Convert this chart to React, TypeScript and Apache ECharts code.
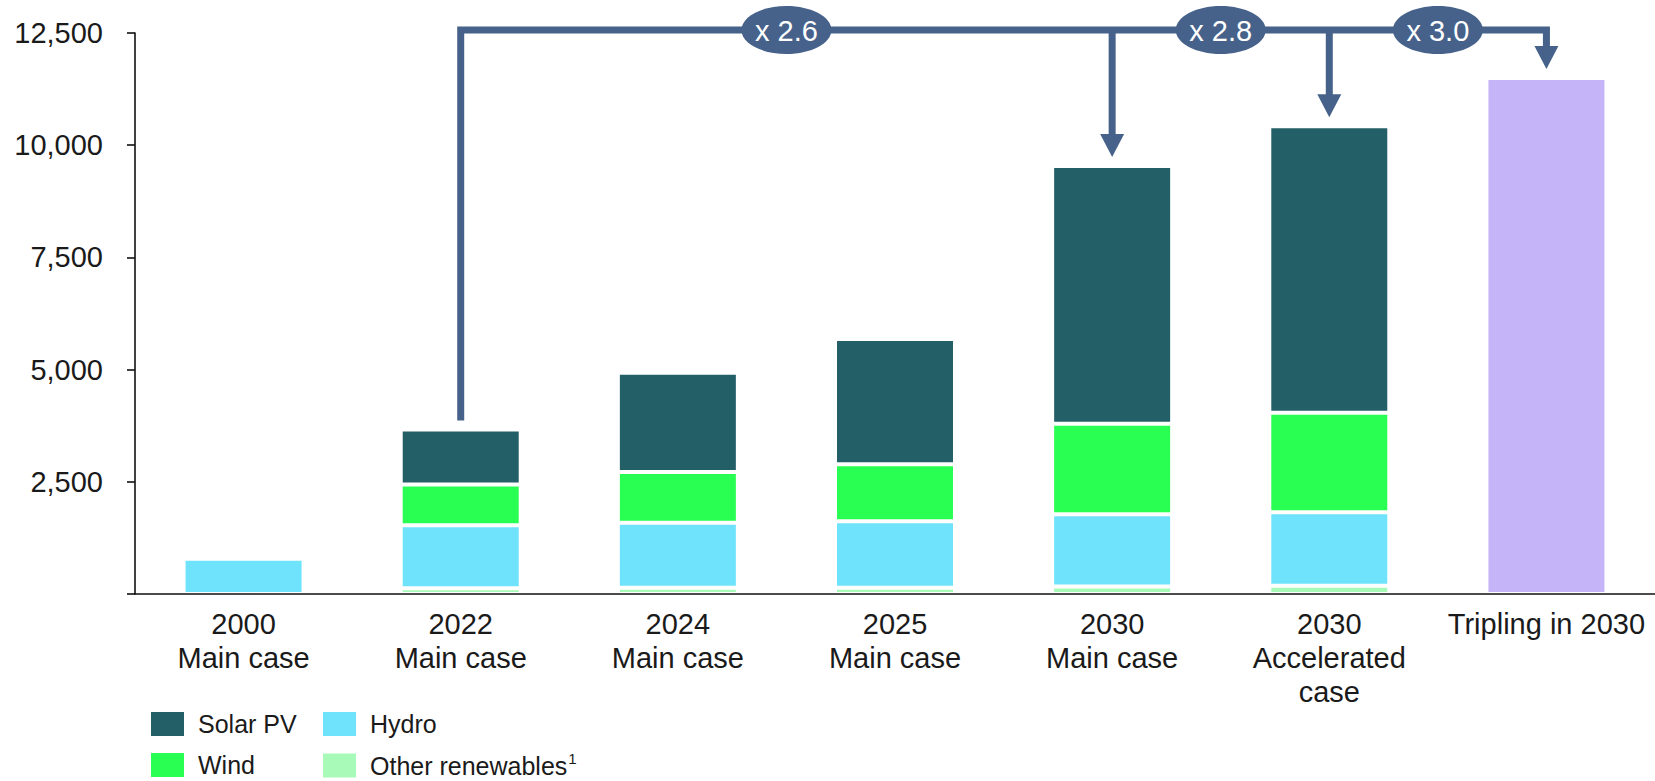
import React, { useEffect, useRef } from 'react';
import * as echarts from 'echarts';

const categories = [
  '2000\nMain case',
  '2022\nMain case',
  '2024\nMain case',
  '2025\nMain case',
  '2030\nMain case',
  '2030\nAccelerated\ncase',
  'Tripling in 2030',
];
const otherRenewables = [0, 130, 140, 140, 165, 185, null];
const hydro = [785, 1400, 1445, 1480, 1610, 1635, null];
const wind = [null, 910, 1135, 1270, 2020, 2220, null];
const solarPV = [null, 1225, 2210, 2790, 5740, 6380, null];
const tripling = [null, null, null, null, null, null, 11500];
const yTicks = [0, 2500, 5000, 7500, 10000, 12500];
const multipliers = ['x 2.6', 'x 2.8', 'x 3.0'];

const FONT = '"Liberation Sans", Arial, sans-serif';
const LINE = '#46628A';

export default function App() {
  const ref = useRef<HTMLDivElement>(null);
  useEffect(() => {
    const chart = echarts.init(ref.current!, null, { renderer: 'svg' });
    const barCommon = {
      type: 'bar',
      stack: 'total',
      barWidth: 120,
      itemStyle: { borderColor: '#ffffff', borderWidth: 2 },
      emphasis: { disabled: true },
    };
    const legendCommon = {
      orient: 'vertical',
      top: 710,
      height: 120,
      padding: 0,
      itemWidth: 35,
      itemHeight: 26,
      itemGap: 13,
      icon: 'rect',
      selectedMode: false,
      textStyle: {
        fontFamily: FONT,
        fontSize: 25,
        lineHeight: 26,
        color: '#1a1a1a',
        padding: [0, 0, 0, 8],
        rich: {
          sup: { fontFamily: FONT, fontSize: 15, lineHeight: 26, color: '#1a1a1a', padding: [0, 0, 14, 1] },
        },
      },
      formatter: (name: string) => (name === 'Other renewables' ? 'Other renewables{sup|1}' : name),
    };
    chart.setOption({
      animation: false,
      grid: { left: 135, right: 0, top: 33, bottom: 187, containLabel: false },
      legend: [
        { ...legendCommon, left: 149, data: ['Solar PV', 'Wind'] },
        { ...legendCommon, left: 321, data: ['Hydro', 'Other renewables'] },
      ],
      xAxis: {
        type: 'category',
        data: categories,
        z: 10,
        axisLine: { show: true, lineStyle: { color: '#111', width: 1.6 } },
        axisTick: { show: false },
        axisLabel: {
          interval: 0,
          margin: 13,
          fontFamily: FONT,
          fontSize: 29,
          lineHeight: 34,
          color: '#1a1a1a',
        },
      },
      yAxis: {
        type: 'value',
        min: yTicks[0],
        max: yTicks[yTicks.length - 1],
        interval: 2500,
        splitLine: { show: false },
        axisLine: { show: true, lineStyle: { color: '#111', width: 1.6 } },
        axisTick: { show: true, length: 8, lineStyle: { color: '#111', width: 1.6 } },
        axisLabel: {
          margin: 32,
          fontFamily: FONT,
          fontSize: 29,
          color: '#1a1a1a',
          formatter: (v: number) => (v === 0 ? '' : v.toLocaleString('en-US')),
        },
      },
      series: [
        { ...barCommon, name: 'Other renewables', data: otherRenewables, itemStyle: { ...barCommon.itemStyle, color: '#A8FAB9' } },
        { ...barCommon, name: 'Hydro', data: hydro, itemStyle: { ...barCommon.itemStyle, color: '#6EE3FB' } },
        { ...barCommon, name: 'Wind', data: wind, itemStyle: { ...barCommon.itemStyle, color: '#29FF52' } },
        { ...barCommon, name: 'Solar PV', data: solarPV, itemStyle: { ...barCommon.itemStyle, color: '#235F66' } },
        { ...barCommon, name: 'Tripling', data: tripling, itemStyle: { ...barCommon.itemStyle, color: '#C5B4F7' } },
      ],
    });

    const px = (i: number) => chart.convertToPixel({ xAxisIndex: 0 }, i) as number;
    const py = (v: number) => chart.convertToPixel({ yAxisIndex: 0 }, v) as number;
    const totals = categories.map(
      (_, i) =>
        (otherRenewables[i] || 0) + (hydro[i] || 0) + (wind[i] || 0) + (solarPV[i] || 0) + (tripling[i] || 0)
    );
    const lineY = py(yTicks[yTicks.length - 1]) - 3;
    const lw = 7;
    const gap = 9;
    const headH = 23;
    const headW = 24;
    const elements: any[] = [];
    const startX = px(1);
    const endX = px(6);
    const arrowTargets = [4, 5, 6];
    elements.push({
      type: 'polyline',
      z: 100,
      shape: {
        points: [
          [startX, py(totals[1]) - gap],
          [startX, lineY],
          [endX, lineY],
          [endX, py(totals[6]) - gap - headH + 2],
        ],
      },
      style: { stroke: LINE, lineWidth: lw, fill: null, lineJoin: 'miter', lineCap: 'butt' },
    });
    arrowTargets.forEach((idx) => {
      const x = px(idx);
      const tip = py(totals[idx]) - gap;
      if (idx !== 6) {
        elements.push({
          type: 'line',
          z: 100,
          shape: { x1: x, y1: lineY, x2: x, y2: tip - headH + 2 },
          style: { stroke: LINE, lineWidth: lw, lineCap: 'butt' },
        });
      }
      elements.push({
        type: 'polygon',
        z: 100,
        shape: {
          points: [
            [x - headW / 2, tip - headH],
            [x + headW / 2, tip - headH],
            [x, tip],
          ],
        },
        style: { fill: LINE },
      });
    });
    const badgePairs = [
      [2, 3],
      [4, 5],
      [5, 6],
    ];
    badgePairs.forEach((pair, k) => {
      const cx = (px(pair[0]) + px(pair[1])) / 2;
      elements.push({
        type: 'ellipse',
        z: 101,
        shape: { cx, cy: lineY, rx: 45, ry: 24 },
        style: { fill: LINE },
      });
      elements.push({
        type: 'text',
        z: 102,
        x: cx,
        y: lineY + 1,
        style: {
          text: multipliers[k],
          fill: '#ffffff',
          font: `29px ${FONT}`,
          textAlign: 'center',
          textVerticalAlign: 'middle',
          align: 'center',
          verticalAlign: 'middle',
        },
      });
    });
    chart.setOption({ graphic: { elements } });

    return () => chart.dispose();
  }, []);
  return <div ref={ref} style={{ position: 'fixed', left: 0, top: 0, width: 1655, height: 781, background: '#fff' }} />;
}
